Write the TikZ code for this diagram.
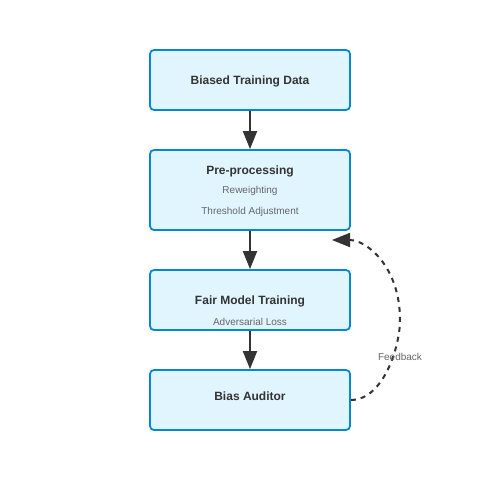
\documentclass[tikz,border=0pt]{standalone}
\usepackage{fontspec}
\setmainfont{Liberation Sans}
\usetikzlibrary{arrows.meta}

\definecolor{boxfill}{HTML}{E1F5FE}
\definecolor{boxline}{HTML}{0288D1}
\definecolor{ink}{HTML}{333333}
\definecolor{subink}{HTML}{666666}

\tikzset{
  stage/.style={draw=boxline,fill=boxfill,line width=1.8pt,rounded corners=4pt,
    minimum width=200pt,inner sep=0pt},
  title/.style={text=ink,font=\bfseries\fontsize{12}{14}\selectfont},
  sub/.style={text=subink,font=\fontsize{10}{12}\selectfont},
  flow/.style={ink,line width=2pt,-{Triangle[length=18pt,width=14pt]}}
}

\begin{document}
\begin{tikzpicture}[x=1pt,y=-1pt]
      \useasboundingbox (0,0) rectangle (500,500);
      % boxes
      \node[stage,minimum height=60pt] (data) at (250,80) {};
      \node[stage,minimum height=80pt] (pre) at (250,190) {};
      \node[stage,minimum height=60pt] (fair) at (250,300) {};
      \node[stage,minimum height=60pt] (audit) at (250,400) {};
      % texts
      \node[title] (tdata) at (250,81.5) {Biased Training Data};
      \node[title] (tpre) at (250,171.5) {Pre-processing};
      \node[sub] (rew) at (250,191) {Reweighting};
      \node[sub] (thr) at (250,212) {Threshold Adjustment};
      \node[title] (tfair) at (250,301.5) {Fair Model Training};
      \node[sub] (adv) at (250,322) {Adversarial Loss};
      \node[title] (taudit) at (250,396.5) {Bias Auditor};
      % arrows down
      \draw[flow] (data.south) -- (pre.north);
      \draw[flow] (pre.south) -- (fair.north);
      \draw[flow] (fair.south) -- (audit.north);
      % feedback loop
      \coordinate (fb) at (332,240);
      \draw[flow,dashed,dash pattern=on 5pt off 5pt] (audit.east) .. controls (383.3,400) and (400,346.7) .. (400,320)
        .. controls (400,266.7) and (366.7,240) .. (fb);
      \node[sub] (lfb) at (400,357) {Feedback};
    \end{tikzpicture}
\end{document}
